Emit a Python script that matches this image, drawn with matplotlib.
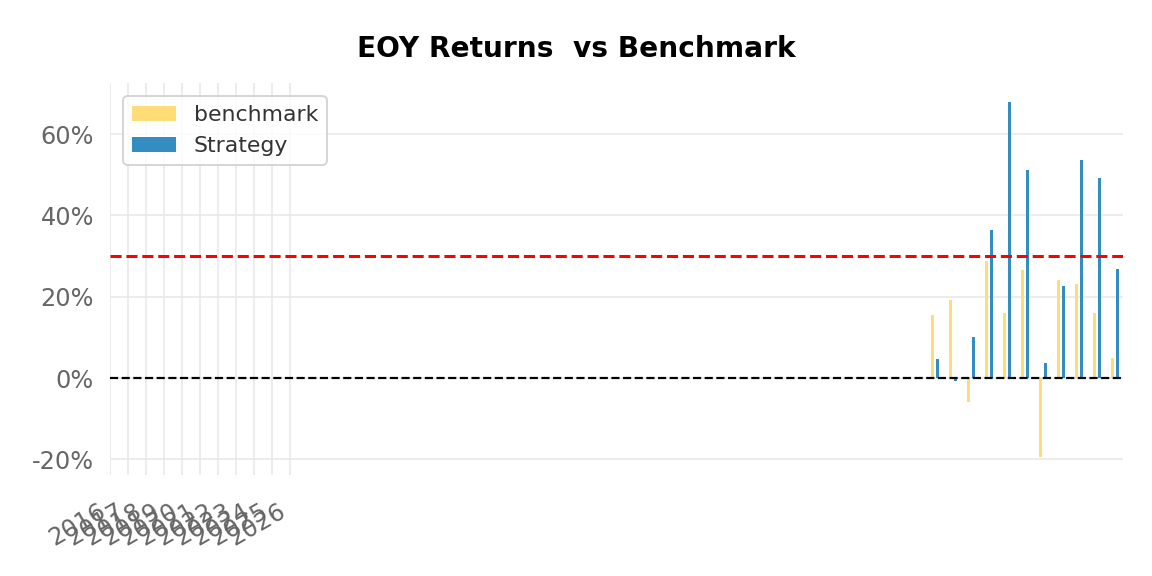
import numpy as np
import matplotlib
matplotlib.use("Agg")
import matplotlib.pyplot as plt
from matplotlib.ticker import FuncFormatter

years = ['2016', '2017', '2018', '2019', '2020', '2021', '2022', '2023', '2024', '2025', '2026']
benchmark = [15.5, 19.2, -6.0, 28.7, 15.9, 26.6, -19.3, 24.0, 23.1, 16.0, 5.0]
strategy = [4.8, -0.7, 10.1, 36.5, 67.9, 51.2, 3.7, 22.7, 53.7, 49.3, 26.9]
bar_pos = np.arange(len(years)) + 45.7
threshold = 30

fig, ax = plt.subplots(figsize=(8, 4), dpi=144)
fig.subplots_adjust(left=0.0955, right=0.975, top=0.856, bottom=0.175)
for s in ax.spines.values():
    s.set_visible(False)

ax.bar(bar_pos, np.array(benchmark) / 100, width=0.14, color='#fedd78', label='benchmark', zorder=2)
ax.bar(bar_pos + 0.26, np.array(strategy) / 100, width=0.16, color='#348dc1', label='Strategy', zorder=2)

ax.axhline(threshold / 100, color='red', ls='--', lw=1.5, zorder=3)
ax.axhline(0, color='black', ls='--', lw=1.1, zorder=3)

ax.set_xticks(np.arange(len(years)))
ax.set_xticklabels(years, rotation=30, ha='right')
ax.set_xlim(0, 56.3)
ax.set_ylim(-0.239, 0.726)
ax.set_yticks([-0.2, 0, 0.2, 0.4, 0.6])
ax.yaxis.set_major_formatter(FuncFormatter(lambda v, p: f'{v*100:.0f}%'))
ax.grid(True, color='#e8e8e8', lw=0.8, zorder=0)
ax.tick_params(colors='#666666', labelsize=12, length=0)
ax.tick_params(axis='y', pad=8)
ax.tick_params(axis='x', pad=12)

fig.suptitle('EOY Returns  vs Benchmark', fontsize=14, fontweight='bold', y=0.94)
leg = ax.legend(loc='upper left', fontsize=11, frameon=True, handlelength=2.0,
                borderaxespad=0.6)
leg.get_frame().set_edgecolor('#cccccc')
for t in leg.get_texts():
    t.set_color('#333333')

fig.savefig('out.png', dpi=144)
